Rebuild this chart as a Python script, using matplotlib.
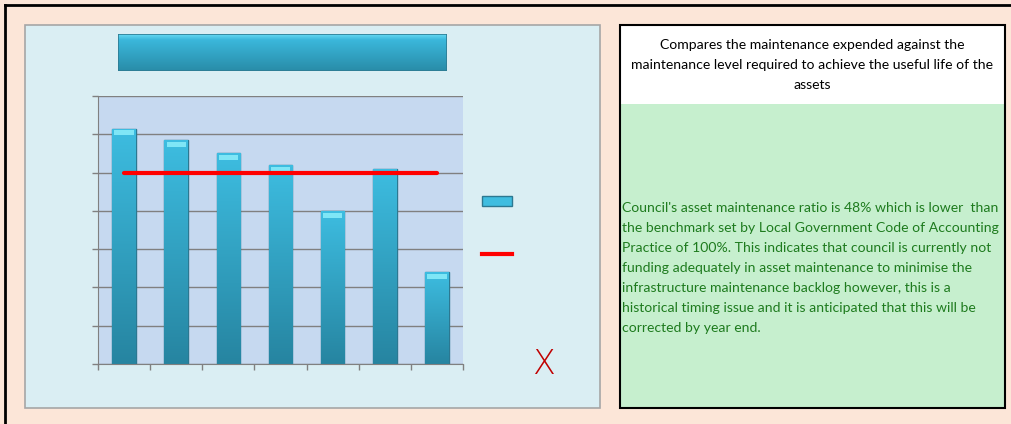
import numpy as np
import matplotlib.pyplot as plt
from matplotlib.patches import Rectangle, Patch
from matplotlib.lines import Line2D

# data (ratio, 1.0 = 100%)
periods = ['P1', 'P2', 'P3', 'P4', 'P5', 'P6', 'P7']
ratio = [1.23, 1.17, 1.10, 1.04, 0.80, 1.02, 0.48]
benchmark = [1.0, 1.0, 1.0, 1.0, 1.0, 1.0, 1.0]
yticks = [0.0, 0.2, 0.4, 0.6, 0.8, 1.0, 1.2, 1.4]

header_text = ("Compares the maintenance expended against the\n"
               "maintenance level required to achieve the useful life of the\n"
               "assets")
body_text = ("Council's asset maintenance ratio is 48% which is lower  than\n"
             "the benchmark set by Local Government Code of Accounting\n"
             "Practice of 100%. This indicates that council is currently not\n"
             "funding adequately in asset maintenance to minimise the\n"
             "infrastructure maintenance backlog however, this is a\n"
             "historical timing issue and it is anticipated that this will be\n"
             "corrected by year end.")

W, H = 1012, 424
fig = plt.figure(figsize=(W / 100, H / 100), dpi=100, facecolor='#FCE6D8')


def box(x0, y0, x1, y1):
    # pixel box (top-left origin) -> figure fraction rect
    return [x0 / W, 1 - y1 / H, (x1 - x0) / W, (y1 - y0) / H]


# outer black border lines
fig.add_artist(Line2D([5 / W, 1], [1 - 5 / H, 1 - 5 / H], color='black', lw=2))
fig.add_artist(Line2D([5 / W, 5 / W], [0, 1 - 5 / H], color='black', lw=2))

# chart panel (behind the axes)
fig.add_artist(Rectangle((25 / W, 1 - 408 / H), 575 / W, 383 / H, transform=fig.transFigure,
                         facecolor='#DAEEF3', edgecolor='#A6A6A6', lw=1.2, zorder=-5))

# title bar (no text), gradient fill
tax = fig.add_axes(box(118, 34, 447, 71))
tax.axis('off')
grad = np.linspace(0, 1, 64).reshape(-1, 1)
top_c = np.array([0.40, 0.85, 0.95])
mid_c = np.array([0.23, 0.72, 0.86])
bot_c = np.array([0.16, 0.55, 0.66])
g = np.where(grad < 0.15, top_c + (mid_c - top_c) * grad / 0.15,
             mid_c + (bot_c - mid_c) * (grad - 0.15) / 0.85)
tax.imshow(g.reshape(64, 1, 3), aspect='auto', extent=[0, 1, 0, 1])
tax.add_patch(Rectangle((0, 0), 1, 1, fill=False, edgecolor='#2F7C93', lw=1.2))

# main plot
ax = fig.add_axes(box(98, 96, 463, 364))
ax.set_facecolor('#C6D9F0')
x = np.arange(len(periods))
bars = ax.bar(x, ratio, width=0.45, color='#38B3D6', edgecolor='#2C7891', lw=1, zorder=2)
bar_grad = np.linspace(0, 1, 100).reshape(-1, 1)
c_top = np.array([0.24, 0.74, 0.88])
c_bot = np.array([0.15, 0.52, 0.63])
bc = c_top + (c_bot - c_top) * bar_grad
for b in bars:
    x0, h = b.get_x(), b.get_height()
    im = ax.imshow(bc.reshape(100, 1, 3), aspect='auto', zorder=2.5,
                   extent=[x0, x0 + b.get_width(), 0, h])
    im.set_clip_path(b)
    ax.add_patch(Rectangle((x0 + 0.04, h - 0.035), b.get_width() - 0.08, 0.025,
                           facecolor='#7FE6F6', edgecolor='none', zorder=3))
ax.plot(x, benchmark, color='#FF0000', lw=3, solid_capstyle='round', zorder=4)

ax.set_xlim(-0.5, len(periods) - 0.5)
ax.set_ylim(0, 1.4)
ax.set_yticks(yticks)
ax.set_yticklabels([])
ax.set_xticks(np.arange(len(periods) + 1) - 0.5)
ax.set_xticklabels([])
ax.tick_params(length=4, color='#808080', width=1)
ax.grid(axis='y', color='#808080', lw=1)
ax.set_axisbelow(True)
for s in ['top', 'right']:
    ax.spines[s].set_visible(False)
for s in ['left', 'bottom']:
    ax.spines[s].set_color('#808080')

# legend without labels
handles = [Patch(facecolor='#3FBDE0', edgecolor='#2C7891', lw=1),
           Line2D([], [], color='#FF0000', lw=3)]
fig.legend(handles, ['', ''], loc='center', bbox_to_anchor=(497 / W, 1 - 228 / H),
           frameon=False, handlelength=2.1, labelspacing=2.8, handletextpad=0, fontsize=10)

# red cross indicator
fig.text(543 / W, 1 - 365 / H, 'X', color='#C00000', fontsize=24, ha='center', va='center',
         family='DejaVu Sans', fontweight='light')

# commentary box
fig.add_artist(Rectangle((620 / W, 1 - 408 / H), 385 / W, 304 / H, transform=fig.transFigure,
                         facecolor='#C6EFCE', edgecolor='none'))
fig.add_artist(Rectangle((620 / W, 1 - 104 / H), 385 / W, 79 / H, transform=fig.transFigure,
                         facecolor='white', edgecolor='none'))
fig.add_artist(Rectangle((620 / W, 1 - 408 / H), 385 / W, 383 / H, transform=fig.transFigure,
                         fill=False, edgecolor='black', lw=1.5))
fig.text(812 / W, 1 - 65 / H, header_text, ha='center', va='center', fontsize=10.1,
         family='Lato', color='black', linespacing=1.82)
fig.text(622 / W, 1 - 268 / H, body_text, ha='left', va='center', fontsize=10.1,
         family='Lato', color='#1E7B1E', linespacing=1.79)

fig.savefig('out.png', dpi=100, facecolor=fig.get_facecolor())
